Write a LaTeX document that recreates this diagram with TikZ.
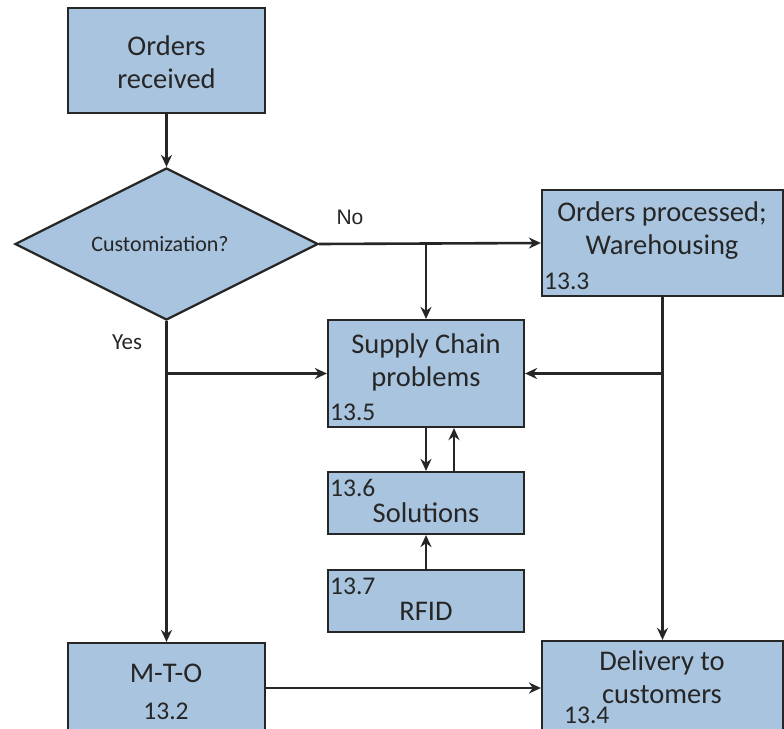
\documentclass[tikz,border=0pt]{standalone}
\usepackage{fontspec}
\setmainfont{Carlito}
\newfontfamily\arialfont{Liberation Sans}
\usetikzlibrary{shapes.geometric,arrows.meta}
\definecolor{boxblue}{RGB}{169,196,222}
\definecolor{inkgray}{RGB}{38,38,38}
\tikzset{
    box/.style={draw=inkgray, fill=boxblue, line width=2.2pt, inner sep=0pt},
    txt/.style={text=inkgray, align=center, font=\fontsize{28.5}{33}\selectfont},
    num/.style={text=inkgray, anchor=west, inner sep=0pt, font=\fontsize{25.5}{28}\selectfont},
    flow/.style={->, draw=inkgray, line width=2.6pt}
}
\begin{document}
\begin{tikzpicture}[x=1pt, y=-1pt, >={Stealth[length=12pt,width=11pt]}]
    \clip (0,0) rectangle (784,728);
    \fill[white] (0,0) rectangle (784,728);

    % Draw boxes
    \node[box, minimum width=197pt, minimum height=105pt] (recv) at (166.5,60.5) {};
    \node[box, diamond, minimum width=303pt, minimum height=152pt] (decide) at (166.5,244) {};
    \node[box, minimum width=241pt, minimum height=106pt] (proc) at (662.5,243) {};
    \node[box, minimum width=196pt, minimum height=107pt] (scp) at (426,373.5) {};
    \node[box, minimum width=196pt, minimum height=62pt] (sol) at (426,503) {};
    \node[box, minimum width=196pt, minimum height=62pt] (rfid) at (426,601) {};
    \node[box, minimum width=197pt, minimum height=118pt] (mto) at (166.5,702) {};
    \node[box, minimum width=241pt, minimum height=120pt] (deliv) at (662.5,701) {};

    % Box texts
    \node[txt] (recvtxt) at (166.5,62) {Orders\\received};
    \node[text=inkgray, font=\fontsize{22}{26}\selectfont] (decidetxt) at (160,244) {Customization?};
    \node[txt] (proctxt) at (662,231) {Orders processed;\\Warehousing};
    \node[txt] (scptxt) at (426,362) {Supply Chain\\problems};
    \node[txt] (soltxt) at (426,513) {Solutions};
    \node[txt] (rfidtxt) at (426,611) {RFID};
    \node[txt] (mtotxt) at (166,673) {M-T-O};
    \node[txt] (delivtxt) at (662,677) {Delivery to\\customers};

    % Section numbers
    \node[num] (n3) at (544,281) {13.3};
    \node[num] (n5) at (330,412) {13.5};
    \node[num] (n6) at (330,488) {13.6};
    \node[num] (n7) at (330,586) {13.7};
    \node[num, anchor=center] (n2) at (166,711) {13.2};
    \node[num] (n4) at (564,715) {13.4};

    % Draw connectors
    \draw[flow] (recv) -- (decide);
    \draw[flow] (decide.east) -- (proc.west);
    \coordinate (jno) at (scp.north |- decide.east);
    \draw[flow] (jno) -- (scp.north);
    \draw[flow] (decide.south) -- (mto.north);
    \coordinate (jyes) at (decide.south |- scp.west);
    \draw[flow] (jyes) -- (scp.west);
    \draw[flow] (proc.south) -- (deliv.north);
    \coordinate (jproc) at (proc.south |- scp.east);
    \draw[flow] (jproc) -- (scp.east);
    \draw[flow] (scp.south) -- (sol.north);
    \draw[flow] ([xshift=28pt]sol.north) -- ([xshift=28pt]scp.south);
    \draw[flow] (rfid.north) -- (sol.south);
    \coordinate (jmto) at ([yshift=14pt]mto.east);
    \draw[flow] (jmto) -- (jmto -| deliv.west);

    % Branch labels
    \node[text=inkgray, font=\arialfont\fontsize{21}{25}\selectfont] (nolbl) at (350,217) {No};
    \node[text=inkgray, font=\fontsize{23}{27}\selectfont] (yeslbl) at (127,342) {Yes};
\end{tikzpicture}
\end{document}
